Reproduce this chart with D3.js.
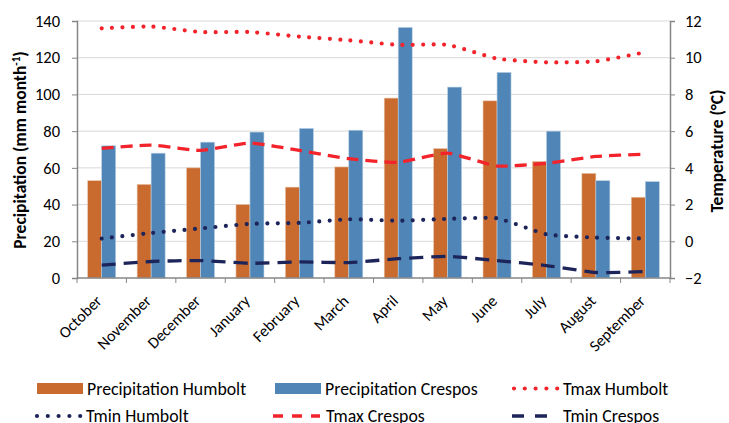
<!DOCTYPE html>
<html>
<head>
<meta charset="utf-8">
<script src="https://cdn.jsdelivr.net/npm/d3@7"></script>
<style>
  body { margin: 0; background: #fff; }
  svg { font-family: Carlito, Lato, sans-serif; }
</style>
</head>
<body>
<div id="chart"></div>
<script>
var months = ["October", "November", "December", "January", "February", "March",
  "April", "May", "June", "July", "August", "September"];
var precHumbolt = [53, 51, 60, 40, 49.5, 60.5, 98, 70.5, 96.5, 63.5, 57, 44];
var precCrespos = [72, 68, 74, 79.5, 81.5, 80.5, 136.5, 104, 112, 80, 53, 52.5];
var tmaxHumbolt = [11.6, 11.7, 11.4, 11.4, 11.15, 10.95, 10.7, 10.7, 9.95, 9.75, 9.8, 10.3];
var tminHumbolt = [0.15, 0.45, 0.7, 0.95, 1.0, 1.2, 1.12, 1.22, 1.25, 0.38, 0.2, 0.15];
var tmaxCrespos = [5.06, 5.24, 4.95, 5.35, 4.95, 4.5, 4.3, 4.8, 4.1, 4.25, 4.62, 4.75];
var tminCrespos = [-1.3, -1.1, -1.05, -1.2, -1.12, -1.16, -0.95, -0.82, -1.05, -1.32, -1.7, -1.65];
var precTicks = [0, 20, 40, 60, 80, 100, 120, 140];
var tempTicks = [-2, 0, 2, 4, 6, 8, 10, 12];

var W = 729, H = 423;
// plot area edges (named so they don't clash with window.top)
var pLeft = 77, pRight = 670, pTop = 21, pBottom = 278;

var svg = d3.select("#chart").append("svg")
  .attr("width", W)
  .attr("height", H);

var x = d3.scaleBand().domain(months).range([pLeft, pRight]);
var xs = d3.scaleBand().domain(["h", "c"]).range([0, 28]);
var yP = d3.scaleLinear().domain([0, 140]).range([pBottom, pTop]);
var yT = d3.scaleLinear().domain([-2, 12]).range([pBottom, pTop]);

// gridlines
svg.append("g").selectAll("line")
  .data(precTicks.slice(1))
  .enter().append("line")
  .attr("x1", pLeft).attr("x2", pRight)
  .attr("y1", function (d) { return yP(d); })
  .attr("y2", function (d) { return yP(d); })
  .attr("stroke", "#d9d9d9")
  .attr("stroke-width", 1);

// bars
var colours = {h: "#c96b2e", c: "#4f86b7"};
var groups = svg.append("g").selectAll("g")
  .data(months)
  .enter().append("g")
  .attr("transform", function (d) { return "translate(" + (x(d) + x.bandwidth() / 2 - 14) + ",0)"; });

groups.append("rect")
  .attr("x", xs("h"))
  .attr("width", xs.bandwidth())
  .attr("y", function (d, i) { return yP(precHumbolt[i]); })
  .attr("height", function (d, i) { return yP(0) - yP(precHumbolt[i]); })
  .attr("fill", colours.h)
  .attr("stroke", "#e8c4aa")
  .attr("stroke-width", 0.6);

groups.append("rect")
  .attr("x", xs("c"))
  .attr("width", xs.bandwidth())
  .attr("y", function (d, i) { return yP(precCrespos[i]); })
  .attr("height", function (d, i) { return yP(0) - yP(precCrespos[i]); })
  .attr("fill", colours.c)
  .attr("stroke", "#b9cfe3")
  .attr("stroke-width", 0.6);

// temperature lines
var line = d3.line()
  .x(function (d, i) { return x(months[i]) + x.bandwidth() / 2; })
  .y(function (d) { return yT(d); })
  .curve(d3.curveCardinal.tension(0.5));

var series = [
  {name: "Tmax Humbolt", data: tmaxHumbolt, colour: "#f2232b", dash: "0,10.4", width: 4.2, cap: "round"},
  {name: "Tmin Humbolt", data: tminHumbolt, colour: "#1c2459", dash: "0,10.4", width: 4.2, cap: "round"},
  {name: "Tmax Crespos", data: tmaxCrespos, colour: "#f2232b", dash: "12,7", width: 3.3, cap: "butt"},
  {name: "Tmin Crespos", data: tminCrespos, colour: "#1c2459", dash: "14,8", width: 3.3, cap: "butt"}
];

series.forEach(function (s) {
  svg.append("path")
    .attr("d", line(s.data))
    .attr("fill", "none")
    .attr("stroke", s.colour)
    .attr("stroke-width", s.width)
    .attr("stroke-dasharray", s.dash)
    .attr("stroke-linecap", s.cap);
});

// axes
var axisColour = "#868686";
var xAxis = svg.append("g")
  .attr("transform", "translate(0," + pBottom + ")");
xAxis.append("line")
  .attr("x1", pLeft).attr("x2", pRight)
  .attr("stroke", axisColour).attr("stroke-width", 1.5);
xAxis.selectAll(".tk")
  .data(months.concat(["end"]))
  .enter().append("line")
  .attr("x1", function (d, i) { return pLeft + i * x.bandwidth(); })
  .attr("x2", function (d, i) { return pLeft + i * x.bandwidth(); })
  .attr("y1", 0).attr("y2", 5)
  .attr("stroke", axisColour);
xAxis.selectAll("text")
  .data(months)
  .enter().append("text")
  .attr("transform", function (d) {
    return "translate(" + (x(d) + x.bandwidth() / 2 + 1) + ",24) rotate(-45)";
  })
  .attr("text-anchor", "end")
  .style("font-size", "16px")
  .style("fill", "#000")
  .text(function (d) { return d; });

var yAxisL = svg.append("g")
  .attr("transform", "translate(" + pLeft + ",0)")
  .call(d3.axisLeft(yP).tickValues(precTicks).tickSize(5).tickPadding(12));
var yAxisR = svg.append("g")
  .attr("transform", "translate(" + pRight + ",0)")
  .call(d3.axisRight(yT).tickValues(tempTicks).tickSize(5).tickPadding(10));

[yAxisL, yAxisR].forEach(function (a) {
  a.select(".domain").attr("stroke", axisColour).attr("stroke-width", 1.5);
  a.selectAll(".tick line").attr("stroke", axisColour);
  a.selectAll(".tick text")
    .style("font-family", "Carlito, Lato, sans-serif")
    .style("font-size", "16.5px")
    .style("fill", "#000");
});

// axis titles
var lt = svg.append("text")
  .attr("transform", "translate(26,150) rotate(-90)")
  .attr("text-anchor", "middle")
  .style("font-size", "17.5px")
  .style("font-weight", "bold");
lt.append("tspan").text("Precipitation (mm month");
lt.append("tspan").attr("dy", -6).style("font-size", "11px").text("-1");
lt.append("tspan").attr("dy", 6).text(")");

svg.append("text")
  .attr("transform", "translate(723,151) rotate(-90)")
  .attr("text-anchor", "middle")
  .style("font-size", "17.5px")
  .style("font-weight", "bold")
  .text("Temperature (°C)");

// legend
var legendItems = [
  {name: "Precipitation Humbolt", type: "rect", colour: colours.h, x: 37, tx: 87, y: 388.5},
  {name: "Precipitation Crespos", type: "rect", colour: colours.c, x: 275, tx: 325, y: 388.5},
  {name: "Tmax Humbolt", type: "line", s: series[0], dash: "0,10.8", w: 46, x: 512, tx: 563, y: 388.5},
  {name: "Tmin Humbolt", type: "line", s: series[1], dash: "0,10.8", w: 46, x: 35, tx: 86, y: 416},
  {name: "Tmax Crespos", type: "line", s: series[2], dash: "10,9", w: 47, x: 273, tx: 326, y: 416},
  {name: "Tmin Crespos", type: "line", s: series[3], dash: "12,11", w: 35, x: 512, tx: 563, y: 416}
];

var legend = svg.append("g");
legendItems.forEach(function (it) {
  if (it.type === "rect") {
    legend.append("rect")
      .attr("x", it.x).attr("y", it.y - 5.5)
      .attr("width", 46).attr("height", 11)
      .attr("fill", it.colour);
  } else {
    legend.append("line")
      .attr("x1", it.x + (it.s.cap === "round" ? 2 : 0)).attr("x2", it.x + it.w)
      .attr("y1", it.y).attr("y2", it.y)
      .attr("stroke", it.s.colour)
      .attr("stroke-width", it.s.width)
      .attr("stroke-dasharray", it.dash)
      .attr("stroke-linecap", it.s.cap);
  }
  legend.append("text")
    .attr("x", it.tx)
    .attr("y", it.y + 6)
    .style("font-size", "17.8px")
    .style("fill", "#000")
    .text(it.name);
});
</script>
</body>
</html>
